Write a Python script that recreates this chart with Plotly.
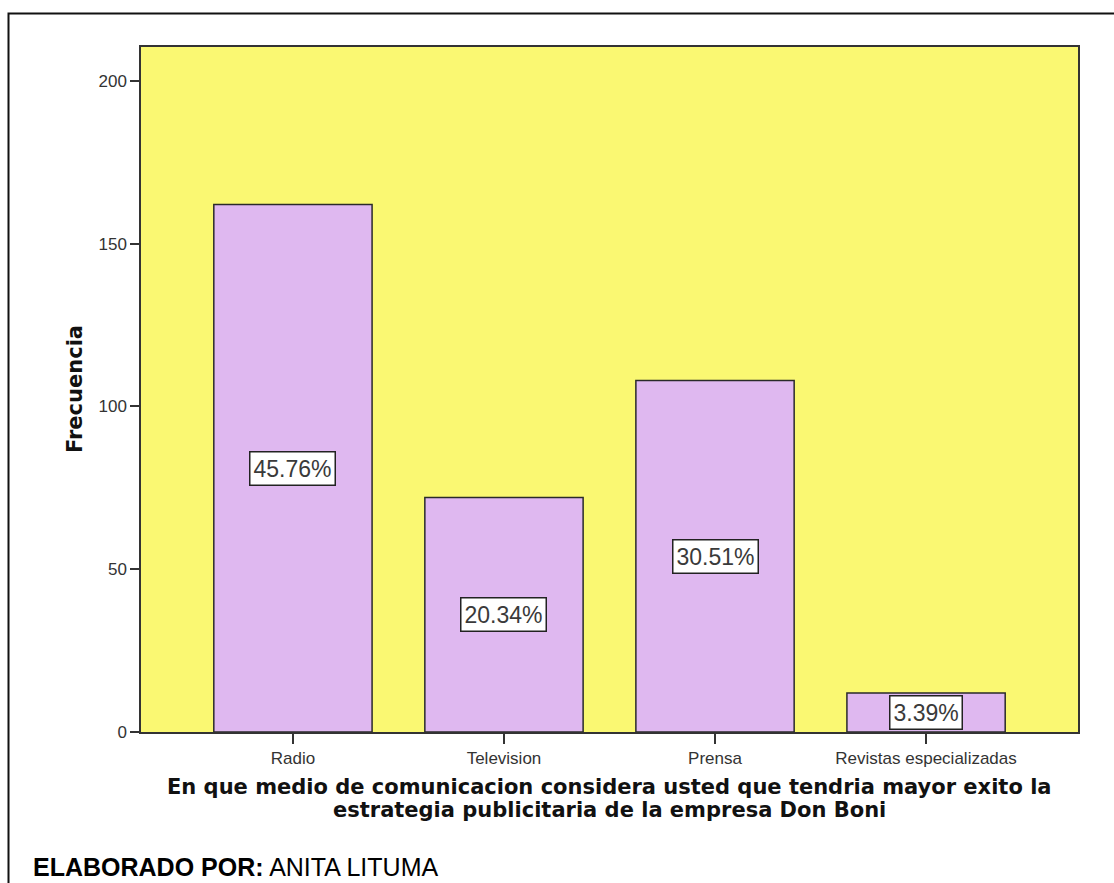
import plotly.graph_objects as go

# Survey counts per communication medium
categorias = ["Radio", "Television", "Prensa", "Revistas especializadas"]
frecuencias = [162, 72, 108, 12]
y_ticks = [0, 50, 100, 150, 200]

total = sum(frecuencias)
porcentajes = [f"{100 * v / total:.2f}%" for v in frecuencias]

W, H = 1114, 883
ML, MR, MT, MB = 141, 36, 47, 151
PW, PH = W - ML - MR, H - MT - MB


def px_x(px):
    return (px - ML) / PW


def px_y(py):
    return (H - MB - py) / PH


fig = go.Figure()
fig.add_bar(
    x=list(range(len(categorias))),
    y=frecuencias,
    width=0.75,
    marker=dict(color="#DFB8F0", line=dict(color="#2a2a2a", width=1.5)),
    hoverinfo="skip",
)

annotations = []
# Percentage boxes at half the height of each bar
for i, (v, txt) in enumerate(zip(frecuencias, porcentajes)):
    annotations.append(dict(
        x=i, y=v / 2, xref="x", yref="y", text=txt, showarrow=False,
        font=dict(family="Liberation Sans, Arial", size=23, color="#3a3a3a"),
        bgcolor="white", bordercolor="#222", borderwidth=1.5, borderpad=3,
    ))

title_font = dict(family="DejaVu Sans", size=21, color="#111")
annotations += [
    dict(x=0.5, y=px_y(787), xref="paper", yref="paper", showarrow=False,
         text="<b>En que medio de comunicacion considera usted que tendria mayor exito la</b>",
         font=title_font, xanchor="center", yanchor="middle"),
    dict(x=0.5, y=px_y(810), xref="paper", yref="paper", showarrow=False,
         text="<b>estrategia publicitaria de la empresa Don Boni</b>",
         font=title_font, xanchor="center", yanchor="middle"),
    dict(x=px_x(75), y=px_y(389), xref="paper", yref="paper", showarrow=False,
         text="<b>Frecuencia</b>", textangle=-90, font=title_font,
         xanchor="center", yanchor="middle"),
    dict(x=px_x(31), y=px_y(867), xref="paper", yref="paper", showarrow=False,
         text="<b>ELABORADO POR:</b> ANITA LITUMA",
         font=dict(family="Liberation Sans, Arial", size=25, color="#000"),
         xanchor="left", yanchor="middle"),
]

fig.update_layout(
    width=W, height=H,
    margin=dict(l=ML, r=MR, t=MT, b=MB),
    paper_bgcolor="white",
    plot_bgcolor="#FAF872",
    showlegend=False,
    bargap=0.25,
    annotations=annotations,
    shapes=[dict(type="rect", xref="paper", yref="paper",
                 x0=px_x(8.5), x1=px_x(1130), y0=px_y(900), y1=px_y(13.5),
                 line=dict(color="#111", width=2), fillcolor="rgba(0,0,0,0)",
                 layer="above")],
)

tick_font = dict(family="Liberation Sans, Arial", size=17, color="#333")
fig.update_xaxes(
    range=[-0.72, 3.72], tickmode="array",
    tickvals=list(range(len(categorias))), ticktext=categorias,
    ticks="outside", ticklen=10, tickcolor="#333", tickwidth=1.5,
    showline=True, linecolor="#333", linewidth=1.5, mirror=True,
    showgrid=False, zeroline=False, tickfont=tick_font,
)
fig.update_yaxes(
    range=[0, 210.4], tickmode="array", tickvals=y_ticks,
    ticks="outside", ticklen=9, tickcolor="#333", tickwidth=1.5,
    showline=True, linecolor="#333", linewidth=1.5, mirror=True,
    showgrid=False, zeroline=False, tickfont=tick_font,
)

fig.write_html("out.html")
